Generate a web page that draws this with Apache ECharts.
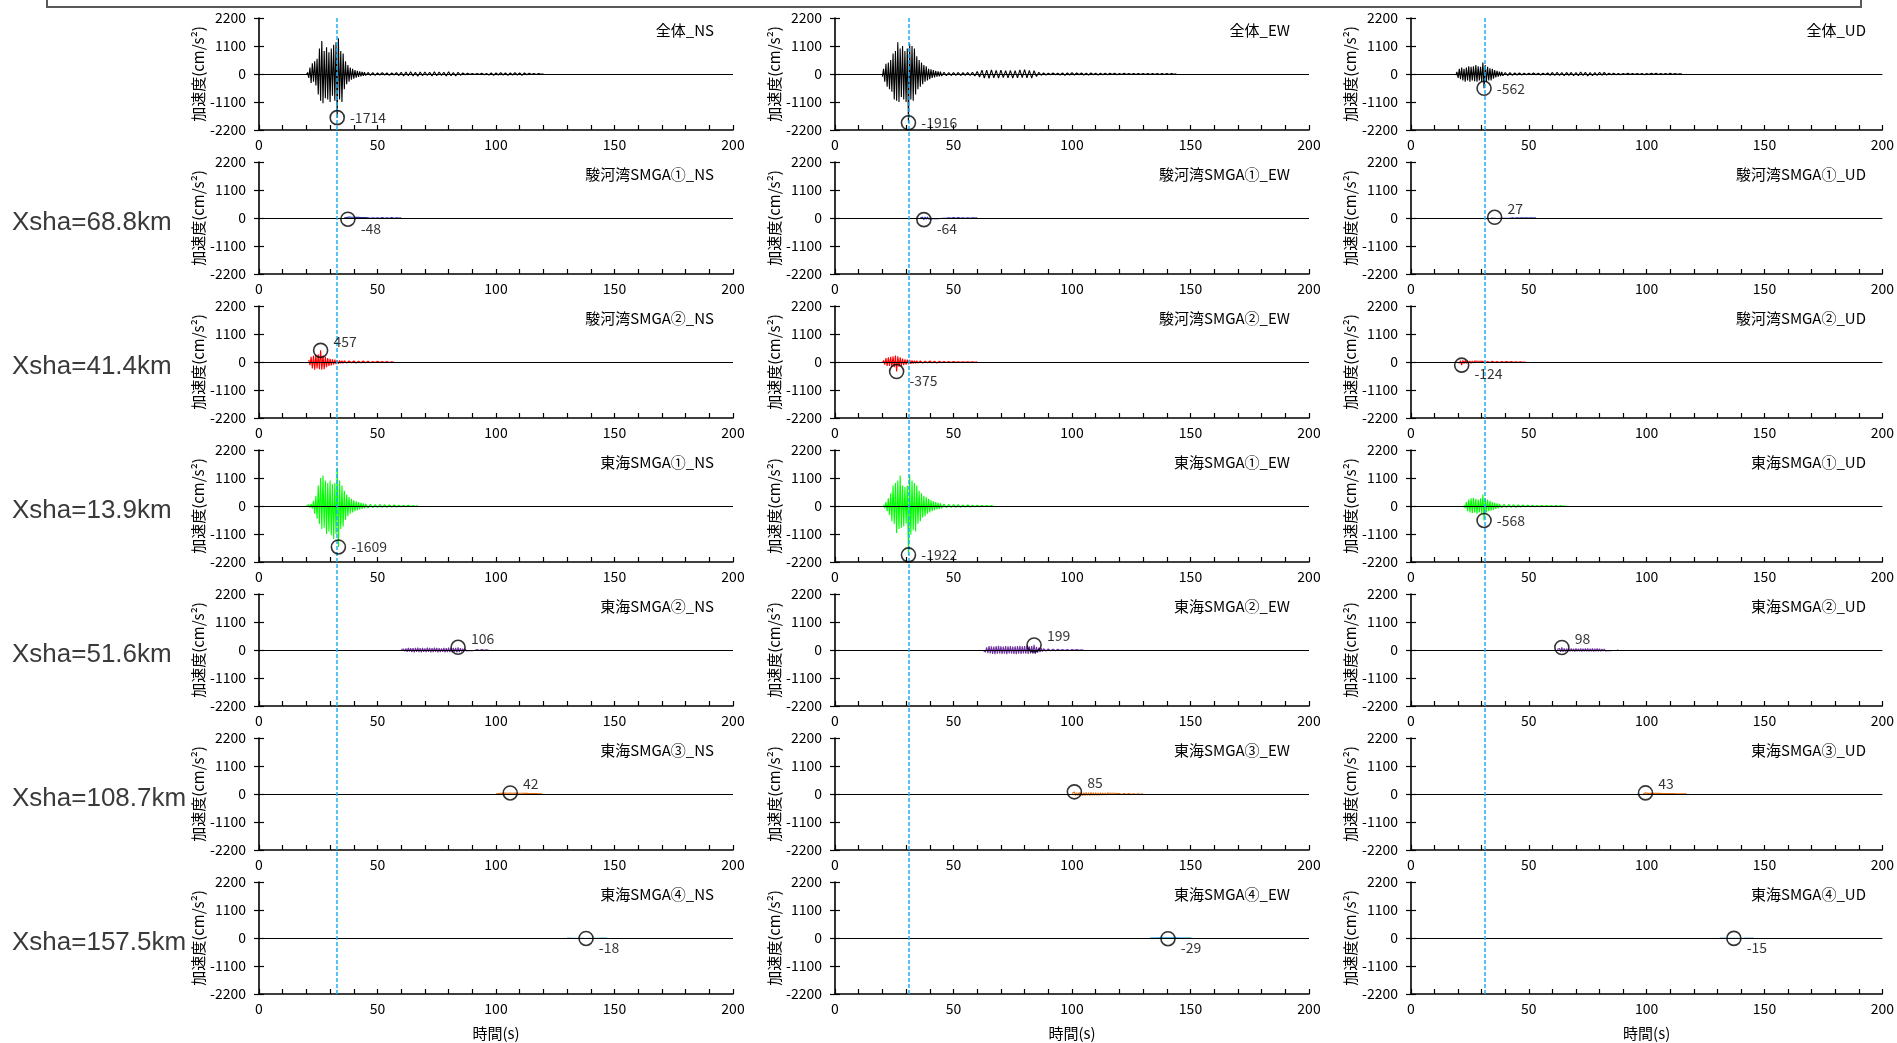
<!DOCTYPE html>
<html><head><meta charset="utf-8">
<script src="https://cdn.jsdelivr.net/npm/echarts@6/dist/echarts.min.js"></script>
<style>html,body{margin:0;padding:0;background:#fff}#c{width:1897px;height:1043px}</style>
</head><body><div id="c"></div>
<script>
// ---------------- data ----------------
const rowNames = ['全体','駿河湾SMGA①','駿河湾SMGA②','東海SMGA①','東海SMGA②','東海SMGA③','東海SMGA④'];
const components = ['NS','EW','UD'];
const distanceLabels = ['','Xsha=68.8km','Xsha=41.4km','Xsha=13.9km','Xsha=51.6km','Xsha=108.7km','Xsha=157.5km'];
const xMin = 0, xMax = 200, xInterval = 50;
const yMin = -2200, yMax = 2200, yInterval = 1100;
const sPhaseTimes = [33, 31, 31];
const peakTimes = [
  [33, 31, 31],
  [37.5, 37.5, 35.5],
  [26, 26, 21.5],
  [33.5, 31, 31],
  [84, 84, 64],
  [106, 101, 99.5],
  [138, 140.5, 137]
];
const peakValues = [
  [-1714, -1916, -562],
  [-48, -64, 27],
  [457, -375, -124],
  [-1609, -1922, -568],
  [106, 199, 98],
  [42, 85, 43],
  [-18, -29, -15]
];
// waveforms: segments of [startTime, step, values]
const waveAll_NS = [[20, 0.5, [-30,60,-150,250,-350,420,-300,500,-450,600,
  -800,1000,-1050,1300,-1150,900,-950,1050,-1000,850,
  -1100,1000,-850,1150,-1050,1250,-1714,1400,-1000,900,
  -1100,800,-600,500,-400,350,-300,250,-220,200,
  -180,150,-140,120,-110,100,-90,80,-70,70]],
 [45, 1, [-60,60,-50,50,-50,40,-40,50,-40,40,
  -50,40,-40,50,-60,70,-80,80,-70,90,
  -80,70,-90,80,-70,80,-60,70,-80,90,
  -70,80,-60,70,-80,90,-70,60,-80,70,
  -50,40,-30,30,-20,20,-20,20,-20,30,
  -30,20,-40,40,-50,40,-40,50,-40,40,
  -50,40,-40,50,-40,40,-50,40,-30,30,
  -20,20,-20,20,-10,10]]];
const waveAll_EW = [[20, 0.5, [-100,200,-300,400,-500,450,-600,550,-700,800,
  -1000,900,-1050,1250,-1100,1000,-900,1100,-1000,900,
  -1100,1000,-1916,1200,-1000,1100,-1050,1000,-800,700,
  -600,550,-500,450,-400,350,-300,300,-250,200,
  -200,180,-150,150,-130,120,-100,100,-90,90]],
 [45, 1, [-80,70,-70,60,-60,50,-50,60,-60,50,
  -50,60,-60,70,-80,100,-120,150,-160,150,
  -170,160,-150,140,-160,150,-140,130,-150,140,
  -160,130,-150,160,-140,170,-150,140,-160,130,
  -100,70,-50,40,-40,30,-30,40,-30,30,
  -40,40,-50,40,-40,50,-40,40,-30,40,
  -40,30,-40,40,-30,30,-40,30,-30,30,
  -30,30,-20,30,-30,20,-20,30,-20,20,
  -20,20,-20,20,-20,20,-20,20,-20,20,
  -20,20,-20,20,-20,20,-20,20,-10,10]]];
const waveAll_UD = [[19, 0.5, [-50,80,-150,200,-200,250,-250,200,-300,250,
  -250,300,-300,280,-250,300,-280,350,-300,300,
  -250,280,-300,450,-562,350,-300,280,-250,220,
  -250,200,-180,150,-130,120,-100,90,-80,80]],
 [39, 1, [-70,60,-60,50,-50,40,-40,40,-40,30,
  -30,30,-30,40,-30,30,-40,30,-30,40,
  -50,60,-60,70,-60,60,-70,60,-50,60,
  -70,60,-70,80,-60,70,-80,60,-70,60,
  -60,70,-50,60,-40,30,-30,30,-30,20,
  -30,20,-20,30,-20,20,-20,20,-20,20,
  -30,20,-20,30,-20,30,-20,20,-20,20,
  -20,30,-20,20,-10,10,0]]];
const waveSuruga1_NS = [[36, 0.5, [5,-10,20,-48,35,-40,30,-35,30,-30,25,-30,25,-20,20,-25,20,-20,15,-15]],
 [46, 1, [10,-10,10,-15,10,-10,15,-10,10,-10,15,-10,10,-5,5]]];
const waveSuruga1_EW = [[36, 0.5, [5,-15,25,-64,40,-45,40,-40,35,-35,30,-30,30,-25,25,-25,20,-20,20,-15]],
 [46, 1, [15,-15,10,-15,15,-10,15,-15,10,-10,10,-10,5,-5,5]]];
const waveSuruga1_UD = [[34, 0.5, [-3,5,-8,27,-15,20,-20,18,-15,15,-12,15,-12,10,-10,10]],
 [42, 1, [-8,8,-10,8,-6,6,-6,5,-5,5,-3,3]]];
const waveSuruga2_NS = [[21, 0.5, [80,-120,200,-250,250,-300,280,-250,300,-280,
  457,-300,250,-280,200,-200,150,-150,120,-130,
  100,-100,90,-80,70,-70,60,-50,50,-50]],
 [36, 1, [50,-40,40,-30,40,-40,30,-30,40,-30,30,-30,20,-20,30,-20,20,-20,20,-20,10,-10]]];
const waveSuruga2_EW = [[20, 0.5, [-30,60,-100,150,-150,180,-150,200,-180,220,
  -200,250,-375,220,-180,180,-150,130,-120,100,
  -100,90,-80,80,-70,60,-60,50,-50,50]],
 [35, 1, [-40,40,-40,30,-30,40,-30,30,-40,30,-20,20,-20,20,-20,20,-10,10,-10,10,-10,10,-10,10,-10,10]]];
const waveSuruga2_UD = [[19.5, 0.5, [-10,20,-40,50,-124,60,-60,60,-50,50,-50,40,-50,40,-40,40,-30,30,-30,30]],
 [29.5, 1, [-30,25,-25,20,-20,25,-20,20,-20,15,-15,15,-15,15,-10,10,-10,10,-10,10]]];
const waveTokai1_NS = [[20, 0.5, [20,-30,50,-60,80,-100,200,-300,400,-500,
  800,-700,1100,-900,1200,-850,1000,-1100,900,-1000,
  1000,-1150,850,-1300,900,-1100,1500,-1609,1000,-900,
  800,-800,600,-550,450,-400,350,-300,280,-250,
  220,-200,180,-160,150,-130,120,-110,100,-90]],
 [45, 1, [80,-80,70,-70,60,-60,60,-50,50,-50,40,-40,40,-40,30,-30,30,-30,30,-20,20,-20,20]]];
const waveTokai1_EW = [[20.5, 0.5, [50,-80,150,-200,300,-350,500,-600,800,-700,
  900,-1060,1000,-900,1200,-850,800,-800,750,-700,
  800,-1922,1230,-1125,1000,-950,900,-1000,800,-700,
  600,-600,500,-450,400,-400,350,-300,280,-250,
  220,-200,180,-160,150,-130,120,-110,100,-90]],
 [46, 1, [80,-70,70,-60,60,-50,50,-50,40,-40,40,-40,30,-30,30,-30,20,-20,20,-20,20,-20]]];
const waveTokai1_UD = [[22.5, 0.5, [40,-80,150,-200,250,-250,300,-280,320,-250,
  280,-300,250,-250,300,-280,450,-568,300,-250,
  250,-200,200,-180,150,-150,120,-110,100,-90]],
 [37.5, 1, [80,-70,70,-60,60,-50,50,-50,40,-40,40,-30,30,-30,30,-30,20,-20,20,-20,20,-20,20,-20,20,-20,15,-15,10]]];
const waveTokai2_NS = [[60, 0.5, [20,-30,40,-50,60,-70,80,-60,70,-80,
  70,-90,80,-70,90,-80,70,-90,80,-70,
  60,-80,90,-70,80,-90,70,-80,90,-70,
  80,-90,70,-80,60,-70,80,-90,70,-80,
  90,-80,70,-90,80,-70,80,-90,106,-80,
  70,-60,50,-50,40,-40,30,-30,30,-30]],
 [90, 1, [20,-20,20,-20,15,-15,10,-10]]];
const waveTokai2_EW = [[62.5, 0.5, [-20,40,-80,100,-120,150,-130,140,-150,130,
  -160,150,-140,160,-130,140,-150,130,-140,150,
  -160,140,-130,150,-140,130,-150,140,-160,150,
  -140,160,-150,140,-130,150,-140,160,-150,140,
  -130,150,-140,199,-150,120,-100,90,-80,70,
  -60,50]],
 [89, 1, [-40,40,-30,30,-30,30,-20,20,-20,20,-20,20,-15,15,-10,10,-10]]];
const waveTokai2_UD = [[62, 0.5, [20,-40,60,-70,98,-70,60,-60,50,-60,
  50,-50,60,-50,50,-60,60,-50,50,-50,
  60,-60,50,-50,60,-50,60,-60,50,-50,
  60,-60,50,-50,60,-50,50,-50,40,-40,
  40,-40,30,-30,30,-30,20,-20,20,-20,
  10,-10,10]]];
const waveTokai3_NS = [[100, 0.5, [5,-10,15,-20,25,-30,30,-30,35,-30,
  30,-35,42,-35,30,-30,35,-30,30,-35,
  30,-30,30,-25,25,-25,25,-20,20,-20,
  20,-20,15,-15,15,-10,10,-10,10,-5]]];
const waveTokai3_EW = [[100, 0.5, [20,-40,85,-60,50,-60,60,-50,60,-60,
  50,-60,60,-50,50,-60,60,-50,50,-50,
  50,-50,40,-50,50,-40,40,-40,40,-40,
  40,-30,30,-30,30,-30,30,-30,20,-20]],
 [120, 1, [20,-20,20,-15,15,-15,10,-10,10,-10,5]]];
const waveTokai3_UD = [[98.5, 0.5, [10,-15,43,-30,25,-30,30,-25,25,-30,
  30,-25,25,-25,25,-20,20,-25,20,-20,
  20,-20,15,-15,15,-15,15,-10,10,-10,
  10,-10,10,-10,5,-5,5,-5]]];
const waveTokai4_NS = [[130, 0.5, [-2,3,-5,6,-8,10,-10,12,-12,10,-12,14,-14,12,-12,14,
  -18,14,-12,12,-12,10,-10,10,-10,8,-8,6,-6,5,-5,4,-4,3,-3]]];
const waveTokai4_EW = [[133, 0.5, [3,-5,6,-8,10,-12,12,-14,15,-15,16,-18,18,-20,20,
  -29,20,-18,18,-16,15,-15,14,-12,12,-10,10,-8,8,-6,6,-5,5,-4,4,-3]]];
const waveTokai4_UD = [[131, 0.5, [-2,3,-4,5,-6,7,-8,9,-10,10,-10,12,
  -15,12,-10,10,-10,9,-8,8,-8,7,-6,6,-5,5,-4,3,-3,2]]];

const waves = [
  [waveAll_NS, waveAll_EW, waveAll_UD],
  [waveSuruga1_NS, waveSuruga1_EW, waveSuruga1_UD],
  [waveSuruga2_NS, waveSuruga2_EW, waveSuruga2_UD],
  [waveTokai1_NS, waveTokai1_EW, waveTokai1_UD],
  [waveTokai2_NS, waveTokai2_EW, waveTokai2_UD],
  [waveTokai3_NS, waveTokai3_EW, waveTokai3_UD],
  [waveTokai4_NS, waveTokai4_EW, waveTokai4_UD]
];

// ---------------- styling / layout ----------------
const rowColors = ['#000000', '#20309A', '#FF0000', '#00FF00', '#7030A0', '#E46C0A', '#4FB3E3'];
const FONT = '"Noto Sans CJK JP", "Noto Sans", sans-serif';
const colLeft = [259, 835, 1411], plotW = 474, rowTop0 = 18, rowStep = 144, plotH = 112;
const W = 1897;

function buildWave(segs) {
  const out = [];
  segs.forEach(function (s) {
    s[2].forEach(function (v, i) { out.push([s[0] + i * s[1], v]); });
  });
  return out;
}
function labelOffset(v) {
  return Math.abs(v) >= 500 ? [0, 0] : [0, v < 0 ? 9 : -9];
}

const grids = [], xAxes = [], yAxes = [], series = [], titles = [], graphics = [];
const axLine = { color: '#000', width: 1.6 };

for (let r = 0; r < 7; r++) {
  const top = rowTop0 + r * rowStep;
  for (let c = 0; c < 3; c++) {
    const k = r * 3 + c;
    grids.push({ left: colLeft[c], top: top, width: plotW, height: plotH });
    xAxes.push({
      gridIndex: k, type: 'value', min: xMin, max: xMax, interval: xInterval,
      axisLine: { onZero: false, lineStyle: axLine },
      axisTick: { inside: true, length: 5, lineStyle: { color: '#000', width: 1.2 } },
      minorTick: { show: true, splitNumber: 5, length: 5, lineStyle: { color: '#000', width: 1.2 } },
      splitLine: { show: false }, minorSplitLine: { show: false },
      axisLabel: { fontSize: 14, color: '#000', margin: 8, fontFamily: FONT,
        formatter: function (v) { return String(v); } },
      name: r === 6 ? '時間(s)' : '', nameLocation: 'middle', nameGap: 32,
      nameTextStyle: { fontSize: 15, color: '#000', fontFamily: FONT }
    });
    yAxes.push({
      gridIndex: k, type: 'value', min: yMin, max: yMax, interval: yInterval, position: 'left',
      axisLine: { show: true, onZero: false, lineStyle: axLine },
      axisTick: { show: true, length: 5, lineStyle: { color: '#000', width: 1.2 } },
      splitLine: { show: false },
      axisLabel: { fontSize: 14, color: '#000', margin: 13, fontFamily: FONT,
        formatter: function (v) { return String(v); } },
      name: '加速度(cm/s²)', nameLocation: 'middle', nameGap: 50,
      nameTextStyle: { fontSize: 15, color: '#000', fontFamily: FONT }
    });
    yAxes.push({
      gridIndex: k, type: 'value', min: yMin, max: yMax, interval: yInterval, position: 'left', offset: 0,
      axisLine: { show: false, onZero: false },
      axisTick: { show: true, inside: true, length: 5, lineStyle: { color: '#000', width: 1.2 } },
      axisLabel: { show: false }, splitLine: { show: false }
    });
    series.push({
      type: 'line', xAxisIndex: k, yAxisIndex: 2 * k,
      data: buildWave(waves[r][c]), showSymbol: false, symbol: 'none', silent: true,
      lineStyle: { color: rowColors[r], width: 1.1 }, animation: false, z: 2,
      markLine: {
        symbol: 'none', silent: true, animation: false, label: { show: false },
        lineStyle: { color: '#000', width: 1.2, type: 'solid' },
        data: [{ yAxis: 0 }]
      }
    });
    const pv = peakValues[r][c];
    series.push({
      type: 'scatter', xAxisIndex: k, yAxisIndex: 2 * k, silent: true, animation: false, z: 6,
      data: [[peakTimes[r][c], pv]], symbol: 'circle', symbolSize: 14,
      itemStyle: { color: 'rgba(0,0,0,0)', borderColor: '#000', borderWidth: 1.6 },
      label: {
        show: true, position: 'right', distance: 5, offset: labelOffset(pv),
        formatter: function (p) { return String(p.value[1]); },
        fontSize: 14, color: '#000', fontFamily: FONT
      }
    });
    titles.push({
      text: rowNames[r] + '_' + components[c],
      right: W - (colLeft[c] + plotW) + 19, top: top + 5, padding: 0,
      textStyle: { fontSize: 15, fontWeight: 'normal', color: '#000', fontFamily: FONT }
    });
  }
  if (distanceLabels[r]) {
    graphics.push({
      type: 'text', x: 12, y: top + plotH / 2 + 5, silent: true,
      style: {
        text: distanceLabels[r], fill: '#3a3a3a',
        font: '26px "Liberation Sans", Arial, sans-serif',
        verticalAlign: 'middle', align: 'left'
      }
    });
  }
}

// full-height overlay grids for the dashed reference lines
for (let c = 0; c < 3; c++) {
  const gi = grids.length;
  grids.push({ left: colLeft[c], top: rowTop0, width: plotW, height: 6 * rowStep + plotH });
  xAxes.push({ gridIndex: gi, type: 'value', min: xMin, max: xMax, show: false });
  yAxes.push({ gridIndex: gi, type: 'value', min: 0, max: 1, show: false });
  series.push({
    type: 'line', xAxisIndex: xAxes.length - 1, yAxisIndex: yAxes.length - 1,
    data: [[sPhaseTimes[c], 0.5]], symbol: 'none', showSymbol: false, silent: true, z: 10,
    lineStyle: { opacity: 0 }, animation: false,
    markLine: {
      symbol: 'none', silent: true, animation: false, label: { show: false },
      lineStyle: { color: '#1FB0EC', type: [4, 2], width: 1.5 },
      data: [{ xAxis: sPhaseTimes[c] }]
    }
  });
}

graphics.push({
  type: 'rect', silent: true, z: 0,
  shape: { x: 47, y: -10, width: 1814, height: 17 },
  style: { fill: 'none', stroke: '#595959', lineWidth: 2 }
});

const chart = echarts.init(document.getElementById('c'), null, { renderer: 'canvas' });
chart.setOption({
  animation: false,
  backgroundColor: '#ffffff',
  title: titles,
  grid: grids,
  xAxis: xAxes,
  yAxis: yAxes,
  series: series,
  graphic: graphics
});
</script></body></html>
